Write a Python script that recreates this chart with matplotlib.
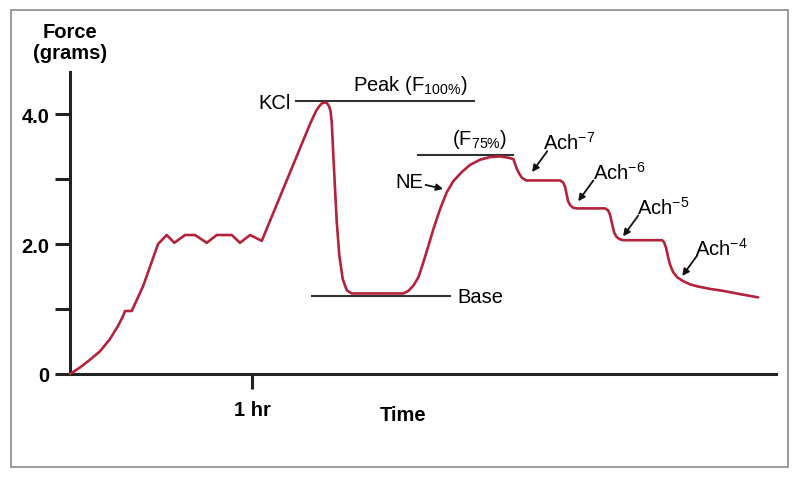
import matplotlib
matplotlib.use("Agg")
import matplotlib.pyplot as plt
from matplotlib.patches import Rectangle

plt.rcParams.update({'font.family': 'Liberation Sans',
                     'mathtext.fontset': 'custom',
                     'mathtext.rm': 'Liberation Sans',
                     'mathtext.it': 'Liberation Sans:italic',
                     'mathtext.bf': 'Liberation Sans:bold',
                     'mathtext.default': 'regular'})

# force trace (time in minutes, force in grams)
time_min = [0, 3.3, 6.59, 9.89, 13.19, 15.82, 17.47, 18.13, 20.34, 24.07,
            29.01, 31.88, 34.38, 37.91, 41.21, 45.07, 48.36, 53.31, 56.04, 59.34,
            63.2, 79.12, 80.11, 81.1, 82.09, 83.08, 84.07, 84.73, 85.39, 85.88,
            86.28, 86.8, 87.36, 87.92, 88.78, 89.9, 91.22, 92.87, 109.88, 111.53,
            113.18, 114.83, 116.47, 118.12, 119.77, 121.98, 124.19, 126.36, 129.13, 131.87,
            135.16, 138.46, 141.76, 144.5, 146.14, 147.18, 148.0, 148.99, 150.31, 151.65,
            161.54, 162.53, 163.19, 163.68, 164.18, 164.84, 165.82, 167.14, 176.37, 177.36,
            178.02, 178.68, 179.34, 180.0, 180.99, 182.31, 195.16, 195.82, 196.48, 197.14,
            197.8, 198.79, 200.11, 202.09, 204.4, 206.7, 210.99, 215.27, 220.88, 226.81]
force_g = [0, 0.1, 0.22, 0.35, 0.54, 0.74, 0.89, 0.97, 0.97, 1.35,
           2.0, 2.14, 2.02, 2.14, 2.14, 2.02, 2.14, 2.14, 2.02, 2.14,
           2.05, 3.85, 3.95, 4.05, 4.12, 4.17, 4.18, 4.17, 4.12, 4.05,
           3.87, 3.36, 2.85, 2.34, 1.82, 1.46, 1.29, 1.24, 1.24, 1.28,
           1.36, 1.49, 1.72, 1.97, 2.23, 2.54, 2.8, 2.97, 3.11, 3.22,
           3.3, 3.34, 3.35, 3.33, 3.31, 3.17, 3.09, 3.02, 2.98, 2.98,
           2.98, 2.95, 2.88, 2.77, 2.66, 2.6, 2.56, 2.55, 2.55, 2.52,
           2.45, 2.31, 2.18, 2.12, 2.08, 2.06, 2.06, 2.03, 1.94, 1.8,
           1.68, 1.57, 1.49, 1.43, 1.38, 1.35, 1.31, 1.28, 1.23, 1.18]

# reference levels: (level, start, end)
peak_line = (4.2, 74.5, 133.2)
f75_line = (3.37, 114.7, 146.0)
base_line = (1.2, 79.8, 125.3)

yticks = [0, 1, 2, 3, 4]
ytick_labels = ["0", "", "2.0", "", "4.0"]
xticks = [60]
xtick_labels = ["1 hr"]

red = '#b3233b'
dark = '#222222'

fig = plt.figure(figsize=(8, 4.81), dpi=100)
fig.patches.append(Rectangle((11/800, 13/481), 777/800, 457/481, transform=fig.transFigure,
                             fill=False, edgecolor='#8a8a8a', linewidth=1.2))

ax = fig.add_axes([70/800, 106/481, 706/800, 302/481])
ax.plot(time_min, force_g, color=red, lw=1.9, clip_on=False, zorder=3,
        solid_joinstyle='round', solid_capstyle='round')

for lvl, x0, x1 in [peak_line, f75_line, base_line]:
    ax.plot([x0, x1], [lvl, lvl], color='#333333', lw=1.5, zorder=2)

ax.set_xlim(0, 232.7)
ax.set_ylim(0, 4.65)
for s in ['top', 'right']:
    ax.spines[s].set_visible(False)
for s in ['left', 'bottom']:
    ax.spines[s].set_linewidth(2.2)
    ax.spines[s].set_color(dark)

ax.set_yticks(yticks)
ax.set_yticklabels(ytick_labels, fontsize=14.5, fontweight='bold')
ax.set_xticks(xticks)
ax.set_xticklabels(xtick_labels, fontsize=14.5, fontweight='bold')
ax.tick_params(axis='both', direction='out', length=11, width=2.2, color=dark)
ax.tick_params(axis='y', pad=4)
ax.tick_params(axis='x', pad=8)

ax.text(0, 5.11, "Force\n(grams)", ha='center', va='center', fontsize=14.5,
        fontweight='bold', linespacing=1.15, clip_on=False)
ax.text(109.8, -0.62, "Time", ha='center', va='center', fontsize=14.5, fontweight='bold')

fs = 14.5
ax.text(72.9, 4.18, "KCl", ha='right', va='center', fontsize=fs)
ax.text(93.3, 4.46, r"Peak (F$_{100\%}$)", ha='left', va='center', fontsize=fs)
ax.text(125.9, 3.63, r"(F$_{75\%}$)", ha='left', va='center', fontsize=fs)
ax.text(127.6, 1.2, "Base", ha='left', va='center', fontsize=fs)

arrow = dict(arrowstyle='-|>', color='#111111', lw=1.3, mutation_scale=10,
             shrinkA=0, shrinkB=0)
ax.annotate("NE", xy=(123.0, 2.85), xytext=(107.1, 2.97), ha='left', va='center',
            fontsize=fs, arrowprops=arrow)
labels = [(r"Ach$^{-7}$", (152.3, 3.11), (155.9, 3.57)),
          (r"Ach$^{-6}$", (167.5, 2.66), (172.4, 3.12)),
          (r"Ach$^{-5}$", (182.3, 2.12), (186.9, 2.58)),
          (r"Ach$^{-4}$", (201.8, 1.51), (206.0, 1.95))]
for txt, head, pos in labels:
    ax.text(pos[0], pos[1], txt, ha='left', va='center', fontsize=fs)
    ax.annotate("", xy=head, xytext=(head[0] + 5.0, head[1] + 0.32), arrowprops=arrow)

fig.savefig("out.png", dpi=100)
